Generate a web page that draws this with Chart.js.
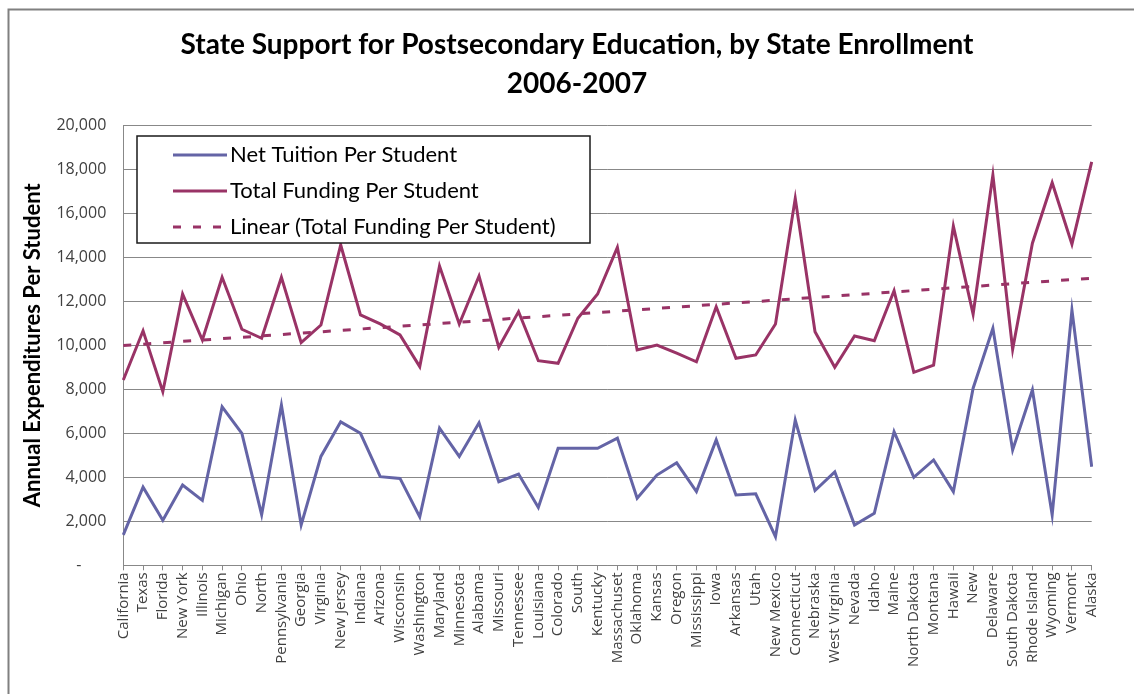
<!DOCTYPE html>
<html>
<head>
<meta charset="utf-8">
<script src="https://cdn.jsdelivr.net/npm/chart.js@4/dist/chart.umd.min.js"></script>
<style>
  html, body { margin: 0; padding: 0; background: #fff; }
  #wrap { position: relative; width: 1134px; height: 694px; }
</style>
</head>
<body>
<div id="wrap"><canvas id="c" width="1134" height="694"></canvas></div>
<script>
const categories = ["California","Texas","Florida","New York","Illinois","Michigan","Ohio","North","Pennsylvania","Georgia","Virginia","New Jersey","Indiana","Arizona","Wisconsin","Washington","Maryland","Minnesota","Alabama","Missouri","Tennessee","Louisiana","Colorado","South","Kentucky","Massachuset","Oklahoma","Kansas","Oregon","Mississippi","Iowa","Arkansas","Utah","New Mexico","Connecticut","Nebraska","West Virginia","Nevada","Idaho","Maine","North Dakota","Montana","Hawaii","New","Delaware","South Dakota","Rhode Island","Wyoming","Vermont","Alaska"];

const netTuition = [1380,3550,2050,3650,2950,7200,6000,2300,7280,1830,4950,6520,6000,4030,3950,2200,6230,4950,6480,3800,4150,2630,5320,5320,5320,5780,3050,4100,4660,3350,5700,3200,3250,1300,6600,3400,4250,1830,2360,6070,4000,4790,3350,8050,10770,5240,7970,2290,11600,4480];

const totalFunding = [8420,10660,7890,12330,10240,13090,10730,10320,13090,10120,10920,14560,11380,10970,10470,9030,13600,10970,13150,9910,11530,9300,9180,11230,12330,14450,9790,10010,9640,9250,11750,9410,9560,10970,16680,10620,9000,10420,10210,12480,8770,9100,15420,11420,17740,9820,14640,17390,14600,18340];

// Linear trendline end values (first and last category)
const trendStart = 9990;
const trendEnd = 13050;

const yTickValues = [0,2000,4000,6000,8000,10000,12000,14000,16000,18000,20000];

const seriesNames = ["Net Tuition Per Student", "Total Funding Per Student", "Linear (Total Funding Per Student)"];
const titleLines = ["State Support for Postsecondary Education, by State Enrollment", "2006-2007"];
const yAxisTitle = "Annual Expenditures Per Student";

const trendData = categories.map((_, i) => i === 0 ? trendStart : (i === categories.length - 1 ? trendEnd : null));

const NET_COLOR = '#6464a6';
const TOT_COLOR = '#993366';

const framePlugin = {
  id: 'frame',
  beforeDraw(chart) {
    const ctx = chart.ctx;
    ctx.save();
    ctx.fillStyle = '#fff';
    ctx.fillRect(0, 0, chart.width, chart.height);
    ctx.strokeStyle = '#808080';
    ctx.lineWidth = 2;
    ctx.beginPath();
    ctx.moveTo(8.5, chart.height);
    ctx.lineTo(8.5, 9.5);
    ctx.lineTo(chart.width, 9.5);
    ctx.stroke();
    ctx.restore();
  }
};

const titlePlugin = {
  id: 'titleText',
  afterDraw(chart) {
    const ctx = chart.ctx;
    ctx.save();
    ctx.fillStyle = '#000';
    ctx.font = 'bold 28px Lato';
    ctx.textAlign = 'center';
    ctx.textBaseline = 'middle';
    const ys = [45, 84];
    titleLines.forEach((t, i) => ctx.fillText(t, 577, ys[i]));
    ctx.restore();
  }
};

const legendBoxPlugin = {
  id: 'legendBox',
  afterDraw(chart) {
    const ctx = chart.ctx;
    const ds = chart.data.datasets;
    const x0 = 137, y0 = 136, w = 453, h = 107;
    ctx.save();
    ctx.fillStyle = '#fff';
    ctx.fillRect(x0, y0, w, h);
    ctx.strokeStyle = '#1a1a1a';
    ctx.lineWidth = 1.5;
    ctx.strokeRect(x0, y0, w, h);
    const rows = [155, 191, 227];
    ds.forEach((d, i) => {
      const y = rows[i];
      ctx.strokeStyle = d.borderColor;
      ctx.lineWidth = d.borderWidth;
      ctx.setLineDash(d.borderDash || []);
      ctx.beginPath();
      ctx.moveTo(173, y);
      ctx.lineTo(227, y);
      ctx.stroke();
      ctx.setLineDash([]);
      ctx.fillStyle = '#000';
      ctx.font = '22px Lato';
      ctx.textBaseline = 'middle';
      ctx.textAlign = 'left';
      ctx.fillText(d.label, 230, y);
    });
    ctx.restore();
  }
};

new Chart(document.getElementById('c'), {
  type: 'line',
  data: {
    labels: categories,
    datasets: [
      { label: seriesNames[0], data: netTuition, borderColor: NET_COLOR, backgroundColor: NET_COLOR, borderWidth: 3, pointRadius: 0, tension: 0, fill: false },
      { label: seriesNames[1], data: totalFunding, borderColor: TOT_COLOR, backgroundColor: TOT_COLOR, borderWidth: 3, pointRadius: 0, tension: 0, fill: false },
      { label: seriesNames[2], data: trendData, borderColor: TOT_COLOR, backgroundColor: TOT_COLOR, borderWidth: 3, borderDash: [8, 12], pointRadius: 0, tension: 0, spanGaps: true, fill: false }
    ]
  },
  options: {
    responsive: false,
    animation: false,
    layout: { padding: { left: 20, right: 42.3, top: 125.3, bottom: 0 } },
    plugins: {
      legend: { display: false },
      tooltip: { enabled: false },
      title: { display: false }
    },
    scales: {
      x: {
        offset: false,
        grid: { display: true, drawOnChartArea: false, drawTicks: true, tickLength: 5, color: '#888' },
        border: { color: '#888', width: 1 },
        ticks: {
          autoSkip: false, maxRotation: 90, minRotation: 90, padding: 2,
          color: '#404040', font: { family: 'Open Sans', size: 15 }
        },
        afterFit(scale) { scale.height = 694 - 565.3; }
      },
      y: {
        min: 0, max: 20000,
        afterBuildTicks(scale) { scale.ticks = yTickValues.map(v => ({ value: v })); },
        grid: { color: '#888', drawTicks: false },
        border: { color: '#888', width: 1 },
        ticks: {
          padding: 17,
          color: '#404040',
          font: { family: 'Open Sans', size: 16 },
          callback: v => v === 0 ? '-      ' : v.toLocaleString('en-US')
        },
        title: {
          display: true, text: yAxisTitle, color: '#000',
          font: { family: 'Lato', size: 22, weight: 'bold' },
          padding: { top: 0, bottom: 0 }
        },
        afterFit(scale) { scale.width = 103.3; }
      }
    }
  },
  plugins: [framePlugin, titlePlugin, legendBoxPlugin]
});
</script>
</body>
</html>
